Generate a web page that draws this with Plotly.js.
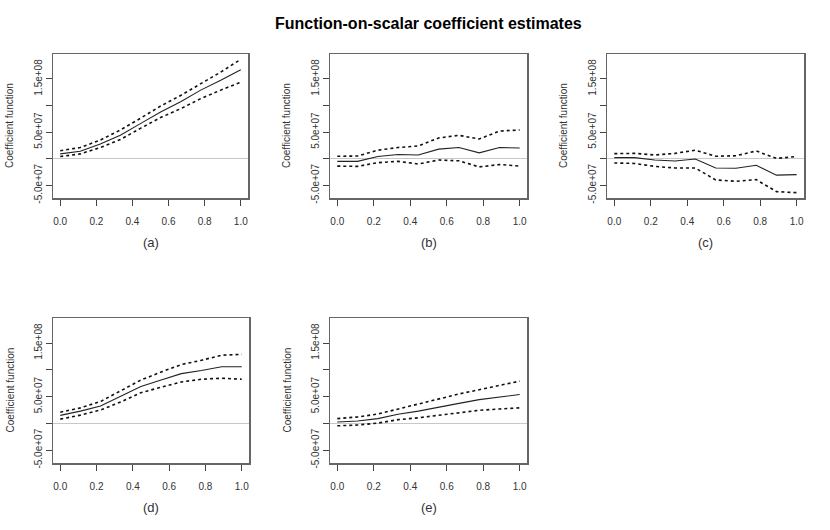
<!DOCTYPE html>
<html>
<head>
<meta charset="utf-8">
<script src="https://cdn.plot.ly/plotly-3.0.1.min.js"></script>
<style>
  html, body { margin: 0; padding: 0; background: #fff; }
  #chart { width: 830px; height: 530px; }
</style>
</head>
<body>
<div id="chart"></div>
<script>
// grid points of the coefficient functions
const tGrid = [0, 0.111, 0.222, 0.333, 0.444, 0.556, 0.667, 0.778, 0.889, 1];

// (a)
const estA   = [0.9e7, 1.4e7, 2.75e7, 4.4e7, 6.6e7, 8.8e7, 10.7e7, 12.9e7, 14.75e7, 16.75e7];
const upperA = [1.5e7, 2.1e7, 3.5e7, 5.4e7, 7.6e7, 9.9e7, 11.9e7, 14.1e7, 16.3e7, 18.7e7];
const lowerA = [0.4e7, 0.9e7, 2.1e7, 3.6e7, 5.7e7, 7.75e7, 9.4e7, 11.3e7, 12.9e7, 14.4e7];
// (b)
const estB   = [-0.5e7, -0.5e7, 0.4e7, 0.8e7, 0.7e7, 1.8e7, 2.1e7, 1.1e7, 2.1e7, 2.0e7];
const upperB = [0.45e7, 0.5e7, 1.6e7, 2.1e7, 2.4e7, 3.9e7, 4.4e7, 3.7e7, 5.2e7, 5.4e7];
const lowerB = [-1.4e7, -1.45e7, -0.75e7, -0.5e7, -1.0e7, -0.25e7, -0.4e7, -1.55e7, -1.1e7, -1.4e7];
// (c)
const estC   = [0.2e7, 0.2e7, -0.25e7, -0.45e7, -0.05e7, -1.75e7, -1.8e7, -1.25e7, -3.1e7, -3.0e7];
const upperC = [0.95e7, 1.0e7, 0.7e7, 1.0e7, 1.6e7, 0.45e7, 0.55e7, 1.45e7, 0.05e7, 0.4e7];
const lowerC = [-0.8e7, -0.9e7, -1.45e7, -1.75e7, -1.75e7, -4.0e7, -4.25e7, -3.95e7, -6.2e7, -6.4e7];
// (d)
const estD   = [1.5e7, 2.3e7, 3.25e7, 5.0e7, 6.9e7, 8.1e7, 9.3e7, 9.9e7, 10.6e7, 10.6e7];
const upperD = [2.1e7, 2.9e7, 4.1e7, 6.1e7, 8.1e7, 9.6e7, 11.0e7, 11.8e7, 12.75e7, 12.9e7];
const lowerD = [0.8e7, 1.55e7, 2.5e7, 4.0e7, 5.75e7, 6.7e7, 7.75e7, 8.25e7, 8.45e7, 8.25e7];
// (e)
const estE   = [0.25e7, 0.45e7, 0.9e7, 1.7e7, 2.3e7, 3.1e7, 3.75e7, 4.45e7, 4.9e7, 5.4e7];
const upperE = [0.9e7, 1.2e7, 1.75e7, 2.7e7, 3.6e7, 4.6e7, 5.5e7, 6.3e7, 7.1e7, 7.9e7];
const lowerE = [-0.45e7, -0.3e7, 0.05e7, 0.7e7, 1.05e7, 1.5e7, 1.95e7, 2.45e7, 2.7e7, 2.9e7];

const panelLabels = ['(a)', '(b)', '(c)', '(d)', '(e)'];
const xTicks = [0, 0.2, 0.4, 0.6, 0.8, 1.0];
const xTickText = ['0.0', '0.2', '0.4', '0.6', '0.8', '1.0'];
const yTicks = [-5e7, 0, 5e7, 1e8, 1.5e8];
const yTickText = ['-5.0e+07', '', '5.0e+07', '', '1.5e+08'];

const W = 830, H = 530;
const FONT = 'Liberation Sans, Arial, Helvetica, sans-serif';

// panel boxes in pixels: [left, right, top, bottom]
const boxes = [
  [53, 248, 54, 198],
  [330, 527, 54, 198],
  [607, 804, 54, 198],
  [53, 249, 318, 463],
  [330, 527, 318, 463]
];

const series = [
  [estA, upperA, lowerA],
  [estB, upperB, lowerB],
  [estC, upperC, lowerC],
  [estD, upperD, lowerD],
  [estE, upperE, lowerE]
];

const traces = [];
const layout = {
  width: W, height: H,
  margin: { l: 0, r: 0, t: 0, b: 0 },
  paper_bgcolor: '#fff',
  plot_bgcolor: '#fff',
  showlegend: false,
  hovermode: false,
  font: { family: FONT, size: 10, color: '#333' },
  annotations: []
};

series.forEach((s, i) => {
  const n = i === 0 ? '' : String(i + 1);
  const xa = 'x' + n, ya = 'y' + n;
  const [est, up, lo] = s;
  traces.push({ x: tGrid, y: up, xaxis: xa, yaxis: ya, mode: 'lines',
    line: { color: '#111', width: 1.6, dash: '3px,3px' } });
  traces.push({ x: tGrid, y: lo, xaxis: xa, yaxis: ya, mode: 'lines',
    line: { color: '#111', width: 1.6, dash: '3px,3px' } });
  traces.push({ x: tGrid, y: est, xaxis: xa, yaxis: ya, mode: 'lines',
    line: { color: '#222', width: 1.1 } });

  const [l, r, t, b] = boxes[i];
  layout['xaxis' + n] = {
    domain: [l / W, r / W], anchor: ya,
    range: [-0.04, 1.04],
    tickvals: xTicks, ticktext: xTickText,
    ticks: 'outside', ticklen: 6, tickcolor: '#444', tickwidth: 1,
    ticklabelstandoff: 7,
    showline: true, mirror: true, linecolor: '#666', linewidth: 1.5,
    showgrid: false, zeroline: false,
    tickfont: { family: FONT, size: 10, color: '#333' }
  };
  layout['yaxis' + n] = {
    domain: [1 - b / H, 1 - t / H], anchor: xa,
    range: [-7.4e7, 1.97e8],
    tickvals: yTicks, ticktext: yTickText,
    tickangle: -90,
    ticks: 'outside', ticklen: 6, tickcolor: '#444', tickwidth: 1,
    ticklabelstandoff: 0,
    showline: true, mirror: true, linecolor: '#666', linewidth: 1.5,
    showgrid: false,
    zeroline: true, zerolinecolor: '#c8c8c8', zerolinewidth: 1,
    tickfont: { family: FONT, size: 10, color: '#333' }
  };

  // y-axis label
  layout.annotations.push({
    text: 'Coefficient function', xref: 'paper', yref: 'paper',
    x: (l - 43) / W, y: 1 - (t + b) / 2 / H,
    xanchor: 'center', yanchor: 'middle', textangle: -90, showarrow: false,
    font: { family: FONT, size: 10, color: '#333' }
  });
  // panel label below the x axis
  layout.annotations.push({
    text: panelLabels[i], xref: 'paper', yref: 'paper',
    x: (l + r) / 2 / W, y: 1 - (b + 44) / H,
    xanchor: 'center', yanchor: 'middle', showarrow: false,
    font: { family: FONT, size: 13, color: '#333' }
  });
});

// main title
layout.annotations.push({
  text: '<b>Function-on-scalar coefficient estimates</b>',
  xref: 'paper', yref: 'paper', x: 429 / W, y: 1 - 24 / H,
  xanchor: 'center', yanchor: 'middle', showarrow: false,
  font: { family: FONT, size: 16, color: '#000' }
});

Plotly.newPlot('chart', traces, layout, { staticPlot: true, displayModeBar: false });
</script>
</body>
</html>
